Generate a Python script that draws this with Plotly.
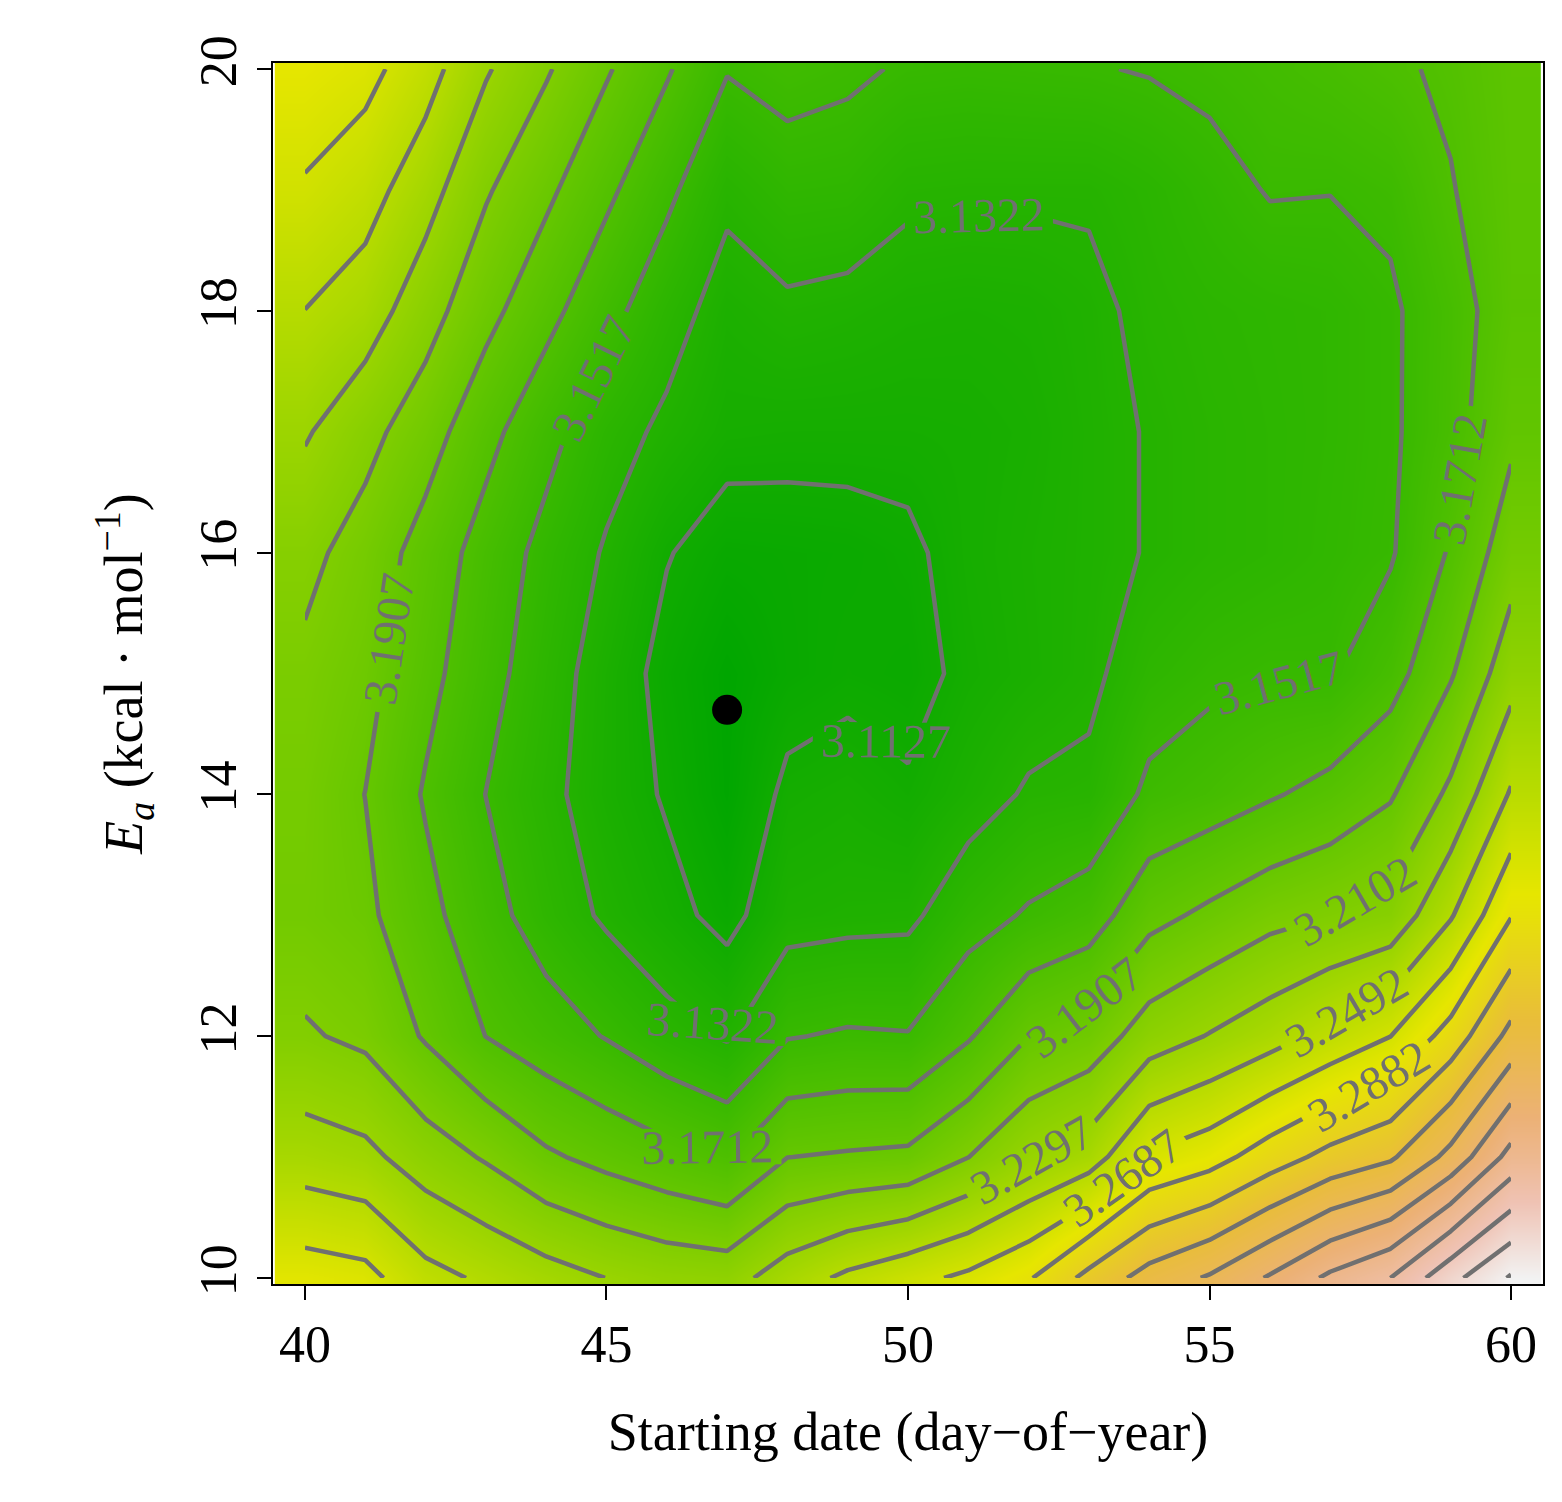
import plotly.graph_objects as go

# starting date (day-of-year) and activation energy grid
days = list(range(40, 61))
ea = list(range(10, 21))

# RMSE surface, one row per Ea value (10 .. 20), columns are days 40 .. 60
rmse = [
    [3.2785, 3.2746, 3.2551, 3.2463, 3.2375, 3.2295, 3.2239, 3.2219, 3.2395, 3.2531, 3.2629, 3.2726, 3.2863, 3.3136, 3.3350, 3.3487, 3.3682, 3.3896, 3.4052, 3.4384, 3.4657],
    [3.2395, 3.2346, 3.2200, 3.2083, 3.1936, 3.1849, 3.1771, 3.1693, 3.1905, 3.1927, 3.1946, 3.2100, 3.2278, 3.2395, 3.2707, 3.2804, 3.2980, 3.3136, 3.3243, 3.3526, 3.3925],
    [3.2122, 3.2063, 3.1888, 3.1710, 3.1605, 3.1507, 3.1390, 3.1303, 3.1507, 3.1537, 3.1527, 3.1693, 3.1905, 3.1985, 3.2200, 3.2307, 3.2414, 3.2551, 3.2685, 3.2960, 3.3331],
    [3.2005, 3.1946, 3.1771, 3.1585, 3.1429, 3.1293, 3.1186, 3.1069, 3.1254, 3.1273, 3.1283, 3.1439, 3.1537, 3.1615, 3.1849, 3.1946, 3.2044, 3.2100, 3.2161, 3.2473, 3.2872],
    [3.2024, 3.1905, 3.1693, 3.1515, 3.1371, 3.1225, 3.1108, 3.0971, 3.1166, 3.1195, 3.1147, 3.1244, 3.1342, 3.1361, 3.1556, 3.1615, 3.1693, 3.1771, 3.1888, 3.2141, 3.2512],
    [3.2063, 3.1966, 3.1771, 3.1585, 3.1410, 3.1234, 3.1069, 3.0961, 3.1049, 3.1088, 3.1069, 3.1166, 3.1225, 3.1283, 3.1420, 3.1478, 3.1507, 3.1498, 3.1634, 3.1888, 3.2219],
    [3.2151, 3.2024, 3.1829, 3.1634, 3.1459, 3.1303, 3.1137, 3.1049, 3.1059, 3.1069, 3.1098, 3.1186, 3.1234, 3.1273, 3.1332, 3.1380, 3.1410, 3.1449, 3.1498, 3.1732, 3.2014],
    [3.2317, 3.2161, 3.1995, 3.1771, 3.1576, 3.1400, 3.1283, 3.1186, 3.1176, 3.1176, 3.1176, 3.1186, 3.1215, 3.1273, 3.1332, 3.1380, 3.1410, 3.1439, 3.1488, 3.1644, 3.1868],
    [3.2490, 3.2395, 3.2180, 3.1966, 3.1771, 3.1576, 3.1400, 3.1244, 3.1293, 3.1273, 3.1244, 3.1234, 3.1244, 3.1283, 3.1361, 3.1400, 3.1420, 3.1439, 3.1488, 3.1634, 3.1810],
    [3.2668, 3.2570, 3.2375, 3.2122, 3.1946, 3.1751, 3.1556, 3.1361, 3.1439, 3.1429, 3.1351, 3.1342, 3.1342, 3.1342, 3.1390, 3.1459, 3.1527, 3.1521, 3.1556, 3.1702, 3.1819],
    [3.2804, 3.2746, 3.2570, 3.2317, 3.2122, 3.1927, 3.1732, 3.1527, 3.1576, 3.1546, 3.1498, 3.1488, 3.1498, 3.1507, 3.1527, 3.1556, 3.1595, 3.1634, 3.1683, 3.1741, 3.1829],
]

best_day = [47]
best_ea = [14.7]

# R terrain.colors
terrain = [
    [0.0, "#00A600"], [0.125, "#2EB600"], [0.25, "#63C600"], [0.375, "#A0D600"],
    [0.5, "#E6E600"], [0.625, "#E9BD3A"], [0.75, "#ECB176"], [0.875, "#EFC2B3"],
    [1.0, "#F2F2F2"],
]

serif = "Liberation Serif, Times New Roman, serif"

fig = go.Figure()

fig.add_trace(go.Heatmap(
    x=days, y=ea, z=rmse,
    colorscale=terrain, zsmooth="best",
    showscale=False, hoverinfo="skip"))

fig.add_trace(go.Contour(
    x=days, y=ea, z=rmse,
    contours=dict(start=3.1127, end=3.47, size=0.0195, coloring="none",
                  showlabels=True,
                  labelfont=dict(family=serif, size=48, color="#707070")),
    line=dict(color="#707070", width=4.5, smoothing=0),
    showscale=False, hoverinfo="skip"))

fig.add_trace(go.Scatter(
    x=best_day, y=best_ea, mode="markers",
    marker=dict(color="black", size=30),
    showlegend=False, hoverinfo="skip"))

fig.update_layout(
    width=1562, height=1502,
    margin=dict(l=265, r=27, t=55, b=226),
    plot_bgcolor="white", paper_bgcolor="white",
    showlegend=False,
    font=dict(family=serif, size=52, color="black"),
    xaxis=dict(
        range=[39.47, 60.53], tickvals=[40, 45, 50, 55, 60],
        ticks="outside", ticklen=14, tickwidth=2, tickcolor="black",
        showline=True, linecolor="black", linewidth=2, mirror=True,
        showgrid=False, zeroline=False,
        title=dict(text="Starting date (day\u2212of\u2212year)", standoff=40,
                   font=dict(size=54))),
    yaxis=dict(
        range=[9.95, 20.05], tickvals=[10, 12, 14, 16, 18, 20],
        tickangle=-90,
        ticks="outside", ticklen=14, tickwidth=2, tickcolor="black",
        showline=True, linecolor="black", linewidth=2, mirror=True,
        showgrid=False, zeroline=False,
        title=dict(text="<i>E</i><sub><i>a</i></sub> (kcal \u00b7 mol<sup>\u22121</sup>)",
                   standoff=30, font=dict(size=54))),
)

fig.write_html("out.html")
